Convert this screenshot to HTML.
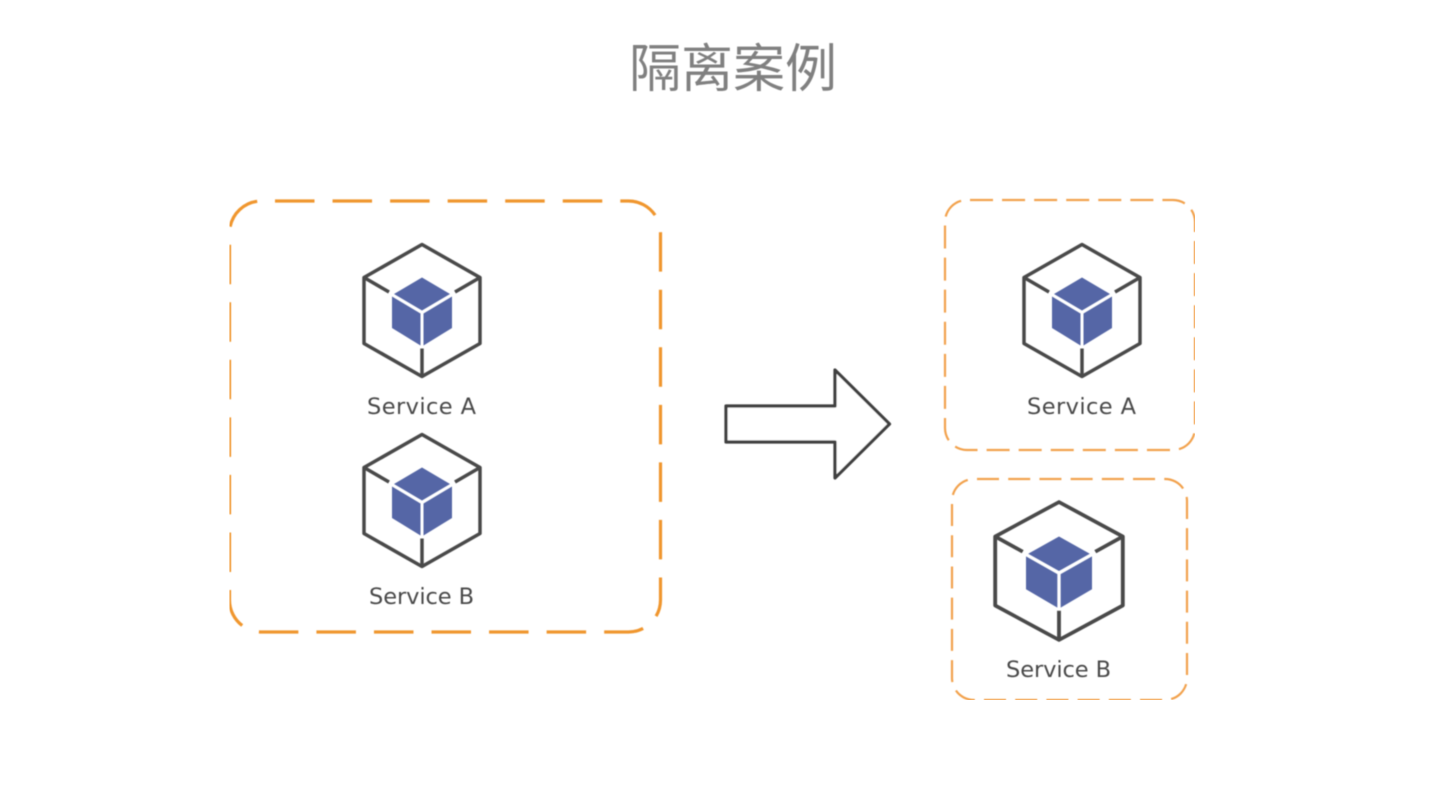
<!DOCTYPE html>
<html><head><meta charset="utf-8"><style>
html,body{margin:0;padding:0;background:#fff;width:1440px;height:810px;overflow:hidden}
svg{display:block}
.t{font-family:"DejaVu Sans",sans-serif;font-size:22.500px;fill:#4a4a4a;text-anchor:middle}
</style></head><body>
<svg width="1440" height="810" viewBox="0 0 1440 810" xmlns="http://www.w3.org/2000/svg">
<defs>
<filter id="b" x="0" y="0" width="100%" height="100%"><feGaussianBlur stdDeviation="0.5"/></filter>
<g id="c">
<path d="M0-66L58-33V33L0 66L-58 33V-33Z" fill="none" stroke="#4a4a4a" stroke-width="3.500" stroke-linejoin="round"/>
<path d="M-58-33L-33-18.500M58-33L33-18.500M0 66V38" fill="none" stroke="#4a4a4a" stroke-width="3.500"/>
<path d="M0-33L28-16.500L0 0L-28-16.500Z" fill="#5566a6"/>
<path d="M-30-14L-1.500 3V35L-30 17.500Z" fill="#5566a6"/>
<path d="M30-14L1.500 3V35L30 17.500Z" fill="#5566a6"/>
</g>
</defs>
<g filter="url(#b)">
<text x="733" y="87" font-family="'Liberation Sans','Noto Sans CJK SC',sans-serif" font-size="52" fill="#808080" text-anchor="middle">隔离案例</text>
<rect x="229.500" y="201" width="431" height="431" rx="32" fill="none" stroke="#f0962e" stroke-width="3.200" stroke-dasharray="39.500 18.050" stroke-dashoffset="-13.500"/>
<rect x="945" y="200" width="250" height="250" rx="22" fill="none" stroke="#f2a24e" stroke-width="2.200" stroke-dasharray="23 9.070" stroke-dashoffset="-3"/>
<rect x="952" y="479" width="235" height="221" rx="22" fill="none" stroke="#f2a24e" stroke-width="2.200" stroke-dasharray="22 9.210" stroke-dashoffset="-3"/>
<use href="#c" transform="translate(422 310.500)"/>
<use href="#c" transform="translate(422 500.500)"/>
<use href="#c" transform="translate(1082 310.500)"/>
<use href="#c" transform="translate(1059 571) scale(1.1 1.045)"/>
<text class="t" x="421.500" y="414" textLength="109" lengthAdjust="spacing">Service A</text>
<text class="t" x="421.500" y="604" textLength="105" lengthAdjust="spacing">Service B</text>
<text class="t" x="1081.500" y="414" textLength="109" lengthAdjust="spacing">Service A</text>
<text class="t" x="1058.500" y="677" textLength="105" lengthAdjust="spacing">Service B</text>
<path d="M726 406H835V370L889.500 424L835 478V442H726Z" fill="#fff" stroke="#3f3f3f" stroke-width="3.200" stroke-linejoin="round"/>
</g>
</svg>
</body></html>
